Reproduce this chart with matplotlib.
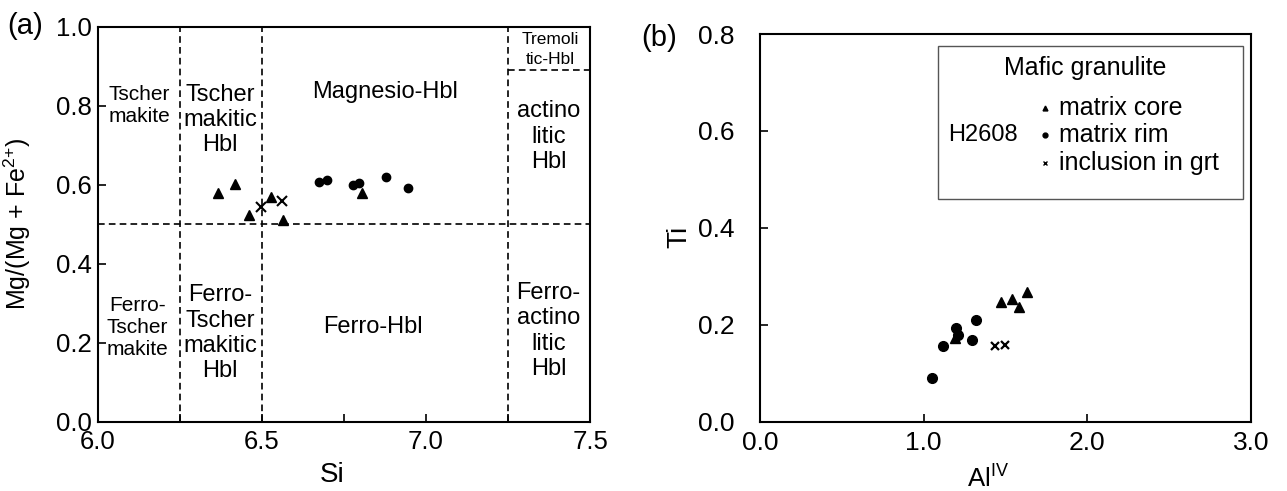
import matplotlib
matplotlib.use("Agg")
import matplotlib.pyplot as plt
from matplotlib.patches import Rectangle

plt.rcParams["font.family"] = ["Liberation Sans", "DejaVu Sans"]
plt.rcParams["mathtext.fontset"] = "custom"
plt.rcParams["mathtext.rm"] = "Liberation Sans"
plt.rcParams["mathtext.default"] = "regular"

# --- (a) Si vs Mg/(Mg+Fe2+) ---
si_core = [6.368, 6.419, 6.461, 6.528, 6.566, 6.805]
mg_core = [0.580, 0.601, 0.523, 0.570, 0.511, 0.578]
si_rim = [6.673, 6.698, 6.777, 6.797, 6.878, 6.945]
mg_rim = [0.608, 0.612, 0.599, 0.604, 0.619, 0.592]
si_incl = [6.498, 6.561]
mg_incl = [0.544, 0.559]

# --- (b) AlIV vs Ti ---
al_core = [1.471, 1.538, 1.584, 1.630, 1.191]
ti_core = [0.248, 0.253, 0.236, 0.268, 0.173]
al_rim = [1.049, 1.120, 1.198, 1.212, 1.293, 1.320]
ti_rim = [0.091, 0.156, 0.193, 0.179, 0.169, 0.210]
al_incl = [1.436, 1.497]
ti_incl = [0.156, 0.158]

# classification boundaries
si_bounds = [6.25, 6.5, 7.25]
mg_bound = 0.5
trem_bound = 0.89

# region names (text, x, y, size)
regions = [
    ("Tscher\nmakite", 6.127, 0.800, 15),
    ("Tscher\nmakitic\nHbl", 6.374, 0.764, 17),
    ("Magnesio-Hbl", 6.877, 0.835, 17),
    ("actino\nlitic\nHbl", 7.373, 0.722, 17),
    ("Ferro-\nTscher\nmakite", 6.122, 0.238, 15),
    ("Ferro-\nTscher\nmakitic\nHbl", 6.374, 0.224, 17),
    ("Ferro-Hbl", 6.839, 0.240, 17),
    ("Ferro-\nactino\nlitic\nHbl", 7.373, 0.230, 17),
]

fig = plt.figure(figsize=(12.87, 4.91), dpi=100)
ax1 = fig.add_axes([0.0758, 0.1411, 0.3827, 0.8045])
ax2 = fig.add_axes([0.5905, 0.1411, 0.3815, 0.7896])

dash = dict(color="black", linestyle=(0, (4, 2.5)), linewidth=1.2, zorder=1)

# ---------- Painel (a) ----------
for s in si_bounds:
    ax1.axvline(s, **dash)
ax1.axhline(mg_bound, **dash)
ax1.plot([7.25, 7.5], [trem_bound, trem_bound], **dash)

for txt, x, y, fs in regions:
    ax1.text(x, y, txt, ha="center", va="center", fontsize=fs, linespacing=1.2)
ax1.text(7.378, 0.943, "Tremoli\ntic-Hbl", ha="center", va="center",
         fontsize=12.5, linespacing=1.4)

ax1.plot(si_core, mg_core, "^", color="black", markersize=7.5, zorder=3)
ax1.plot(si_rim, mg_rim, "o", color="black", markersize=6, zorder=3)
ax1.plot(si_incl, mg_incl, "x", color="black", markersize=7, mew=1.5, zorder=3)

ax1.set_xlim(6.0, 7.5)
ax1.set_ylim(0.0, 1.0)
ax1.set_xticks([6.0, 6.5, 7.0, 7.5])
ax1.set_xticklabels(["6.0", "6.5", "7.0", "7.5"])
ax1.set_xticks([6.25, 6.75, 7.25], minor=True)
ax1.set_yticks([0.0, 0.2, 0.4, 0.6, 0.8, 1.0])
ax1.set_yticklabels(["0.0", "0.2", "0.4", "0.6", "0.8", "1.0"])
ax1.tick_params(axis="both", which="both", direction="in", length=6, width=1.2,
                labelsize=18.5)
ax1.tick_params(axis="y", pad=4)
ax1.tick_params(axis="x", pad=6)
ax1.set_xlabel("Si", fontsize=20)
ax1.set_ylabel("Mg/(Mg + Fe$^{2{+}}$)", fontsize=18)
ax1.xaxis.set_label_coords(0.4755, -0.101)
ax1.yaxis.set_label_coords(-0.131, 0.5)

# ---------- Painel (b) ----------
ax2.plot(al_core, ti_core, "^", color="black", markersize=7.5, zorder=3)
ax2.plot(al_rim, ti_rim, "o", color="black", markersize=7, zorder=3)
ax2.plot(al_incl, ti_incl, "x", color="black", markersize=6, mew=1.6, zorder=3)

# caixa de legenda
ax2.add_patch(Rectangle((1.088, 0.4595), 2.951 - 1.088, 0.776 - 0.4595,
                        fill=False, edgecolor="#555555", linewidth=1.0))
ax2.text(1.986, 0.729, "Mafic granulite", ha="center", va="center", fontsize=18)
ax2.text(1.149, 0.592, "H2608", ha="left", va="center", fontsize=17)
leg_items = [("^", "matrix core", 0.647), ("o", "matrix rim", 0.592),
             ("x", "inclusion in grt", 0.533)]
for mk, lab, y in leg_items:
    ax2.plot([1.744], [y], mk, color="black", markersize=3.5, mew=1.0)
    ax2.text(1.827, y, lab, ha="left", va="center", fontsize=18)

ax2.set_xlim(0.0, 3.0)
ax2.set_ylim(0.0, 0.8)
ax2.set_xticks([0.0, 1.0, 2.0, 3.0])
ax2.set_xticklabels(["0.0", "1.0", "2.0", "3.0"])
ax2.set_yticks([0.0, 0.2, 0.4, 0.6, 0.8])
ax2.set_yticklabels(["0.0", "0.2", "0.4", "0.6", "0.8"])
ax2.tick_params(axis="both", direction="in", length=6, width=1.2, labelsize=19)
ax2.tick_params(axis="y", pad=18)
ax2.tick_params(axis="x", pad=7)
ax2.set_xlabel("Al$^{IV}$", fontsize=18.5)
ax2.set_ylabel("Ti", fontsize=20)
ax2.xaxis.set_label_coords(0.464, -0.112)
ax2.yaxis.set_label_coords(-0.138, 0.476)

for ax in [ax1, ax2]:
    for spine in ax.spines.values():
        spine.set_linewidth(1.5)

fig.text(0.006, 0.947, "(a)", fontsize=21, va="center", ha="left")
fig.text(0.498, 0.923, "(b)", fontsize=21, va="center", ha="left")

fig.savefig("out.png", dpi=100)
plt.close(fig)
